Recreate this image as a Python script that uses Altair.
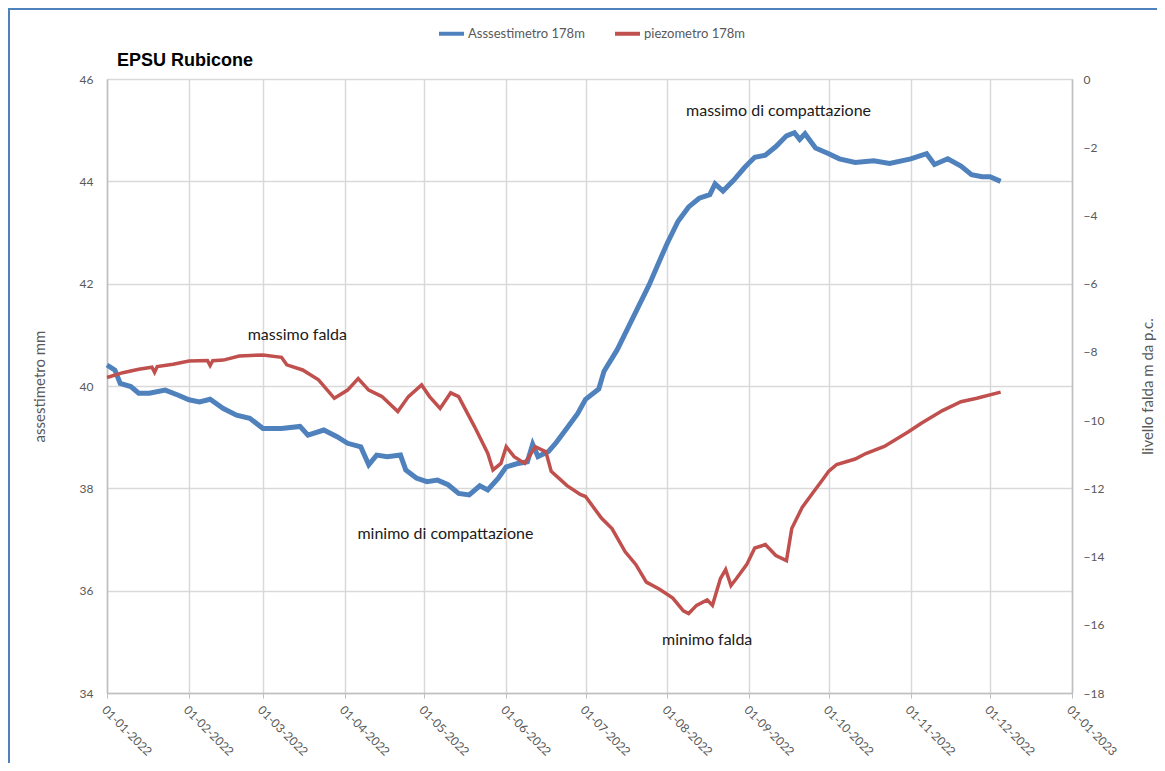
import altair as alt
import pandas as pd

# ---- data (day offset from 01-01-2022) ----
blue_days = [0, 3, 5, 9, 12, 16, 22, 27, 31, 35, 39, 44, 49, 54, 59, 66, 73, 76, 82, 87,
             91, 96, 99, 102, 106, 111, 113, 117, 121, 125, 129, 133, 137, 141, 144, 148,
             151, 155, 159, 161, 163, 167, 170, 174, 178, 181, 186, 188, 193, 197, 201,
             205, 209, 212, 216, 220, 224, 228, 230, 233, 237, 241, 243, 245, 249, 253,
             257, 260, 262, 264, 268, 273, 277, 283, 290, 296, 304, 310, 313, 318, 323,
             327, 331, 334, 338]
blue_vals = [40.41, 40.31, 40.05, 39.99, 39.86, 39.86, 39.92, 39.82, 39.73, 39.69, 39.74,
             39.56, 39.43, 39.37, 39.17, 39.17, 39.21, 39.04, 39.14, 39.01, 38.88, 38.81,
             38.46, 38.65, 38.62, 38.65, 38.36, 38.20, 38.13, 38.16, 38.07, 37.90, 37.87,
             38.05, 37.97, 38.20, 38.42, 38.48, 38.52, 38.86, 38.62, 38.72, 38.90, 39.18,
             39.46, 39.74, 39.94, 40.29, 40.71, 41.13, 41.55, 41.97, 42.45, 42.80, 43.22,
             43.50, 43.67, 43.74, 43.95, 43.81, 44.02, 44.26, 44.37, 44.47, 44.51, 44.68,
             44.89, 44.95, 44.82, 44.93, 44.65, 44.54, 44.44, 44.37, 44.40, 44.35, 44.44,
             44.54, 44.33, 44.44, 44.30, 44.13, 44.09, 44.09, 44.00]

red_days = [0, 6, 12, 17, 18, 19, 25, 31, 38, 39, 40, 44, 50, 59, 66, 68, 74, 80, 86, 91,
            95, 99, 104, 110, 114, 119, 122, 126, 130, 133, 139, 144, 146, 149, 151, 154,
            158, 162, 166, 168, 174, 179, 181, 187, 191, 196, 200, 204, 209, 214, 218, 220,
            223, 227, 229, 232, 234, 236, 238, 242, 245, 249, 253, 257, 259, 263, 267, 271,
            273, 276, 283, 287, 294, 303, 308, 316, 323, 329, 338]
red_vals = [-8.75, -8.61, -8.51, -8.45, -8.60, -8.43, -8.36, -8.27, -8.25, -8.40, -8.26,
            -8.24, -8.12, -8.09, -8.16, -8.38, -8.53, -8.82, -9.36, -9.12, -8.78, -9.12,
            -9.31, -9.75, -9.31, -8.97, -9.31, -9.66, -9.20, -9.31, -10.19, -10.97, -11.46,
            -11.27, -10.78, -11.07, -11.27, -10.78, -10.93, -11.50, -11.92, -12.18, -12.24,
            -12.87, -13.18, -13.86, -14.23, -14.75, -14.96, -15.22, -15.59, -15.67, -15.43,
            -15.27, -15.43, -14.65, -14.38, -14.85, -14.65, -14.23, -13.75, -13.65, -13.97,
            -14.12, -13.18, -12.55, -12.13, -11.71, -11.50, -11.30, -11.14, -10.98, -10.77,
            -10.35, -10.09, -9.72, -9.46, -9.36, -9.18]

note_days = [72, 128, 254, 227]
note_vals = [41.0, 37.1, 45.37, 35.04]
note_text = ["massimo falda", "minimo di compattazione", "massimo di compattazione", "minimo falda"]

series_names = ["Asssestimetro 178m", "piezometro 178m"]
series_colors = ["#4F81BD", "#C0504D"]

start = pd.Timestamp("2022-01-01")
blue_df = pd.DataFrame({"date": [start + pd.Timedelta(days=d) for d in blue_days],
                        "val": blue_vals, "series": series_names[0]})
red_df = pd.DataFrame({"date": [start + pd.Timedelta(days=d) for d in red_days],
                       "val": red_vals, "series": series_names[1]})
note_df = pd.DataFrame({"date": [start + pd.Timedelta(days=d) for d in note_days],
                        "val": note_vals, "label": note_text})

FONT = "Lato"
GREY = "#595959"

month_vals = [alt.DateTime(year=2022, month=m, date=1) for m in range(1, 13)] + \
             [alt.DateTime(year=2023, month=1, date=1)]

x_enc = alt.X(
    "date:T",
    scale=alt.Scale(domain=[alt.DateTime(year=2022, month=1, date=1),
                            alt.DateTime(year=2023, month=1, date=1)]),
    axis=alt.Axis(values=month_vals, format="%d-%m-%Y", labelAngle=45, labelAlign="left",
                  labelBaseline="top", labelPadding=6, title=None, grid=True,
                  gridColor="#d9d9d9", gridWidth=1.5, ticks=True, tickSize=5,
                  tickColor="#bfbfbf", domainColor="#bfbfbf", domainWidth=1.5,
                  labelFont=FONT, labelFontSize=12, labelColor=GREY, labelOverlap=False,
                  labelBound=False, labelFlush=False),
)

color_scale = alt.Scale(domain=series_names, range=series_colors)
legend = alt.Legend(title=None, orient="none", legendX=330, legendY=-60, direction="horizontal",
                    symbolType="stroke", symbolSize=625, symbolStrokeWidth=4,
                    labelFont=FONT, labelFontSize=13, labelColor=GREY, labelOffset=2,
                    columnPadding=22, padding=0)

blue = alt.Chart(blue_df).mark_line(strokeWidth=5, interpolate="linear").encode(
    x=x_enc,
    y=alt.Y("val:Q", scale=alt.Scale(domain=[34, 46], nice=False, zero=False),
            axis=alt.Axis(orient="left", values=list(range(34, 47, 2)), title="assestimetro  mm",
                          grid=True, gridColor="#d9d9d9", gridWidth=1.5, ticks=False,
                          domainColor="#bfbfbf", domainWidth=1.5, labelPadding=14,
                          labelFont=FONT, labelFontSize=12, labelColor=GREY,
                          titleFont=FONT, titleFontSize=15, titleFontWeight="normal",
                          titleColor=GREY, titlePadding=32)),
    color=alt.Color("series:N", scale=color_scale, legend=legend),
)

red = alt.Chart(red_df).mark_line(strokeWidth=3.5, interpolate="linear").encode(
    x=x_enc,
    y=alt.Y("val:Q", scale=alt.Scale(domain=[-18, 0], nice=False, zero=False),
            axis=alt.Axis(orient="right", values=list(range(-18, 1, 2)),
                          title="livello falda m da p.c.", titleAngle=270,
                          grid=False, ticks=False, domainColor="#bfbfbf", domainWidth=1.5,
                          labelPadding=11, labelFont=FONT, labelFontSize=12, labelColor=GREY,
                          titleFont=FONT, titleFontSize=15, titleFontWeight="normal",
                          titleColor=GREY, titlePadding=52)),
    color=alt.Color("series:N", scale=color_scale, legend=legend),
)

notes = alt.Chart(note_df).mark_text(font=FONT, fontSize=16, color="#1a1a1a",
                                     align="center", baseline="middle").encode(
    x=x_enc,
    y=alt.Y("val:Q", scale=alt.Scale(domain=[34, 46], nice=False, zero=False), axis=None),
    text="label:N",
)

frame = alt.Chart(pd.DataFrame({"a": [0]})).mark_rect(
    filled=False, stroke="#4F81BD", strokeWidth=2).encode(
    x=alt.value(-98), x2=alt.value(1200), y=alt.value(-70), y2=alt.value(900))

chart = alt.layer(frame, blue, red, notes).resolve_scale(y="independent").properties(
    width=965, height=614,
    title=alt.TitleParams("EPSU Rubicone", anchor="start", frame="group", dx=10, offset=-62,
                          font="Liberation Sans", fontSize=18, fontWeight="bold", color="#000000"),
    padding={"left": 99, "top": 71, "right": 85, "bottom": 70},
    autosize=alt.AutoSizeParams(type="none"),
).configure_view(stroke=None).configure(background="white")

chart.save("out.html", embed_options={"renderer": "svg", "actions": False})
